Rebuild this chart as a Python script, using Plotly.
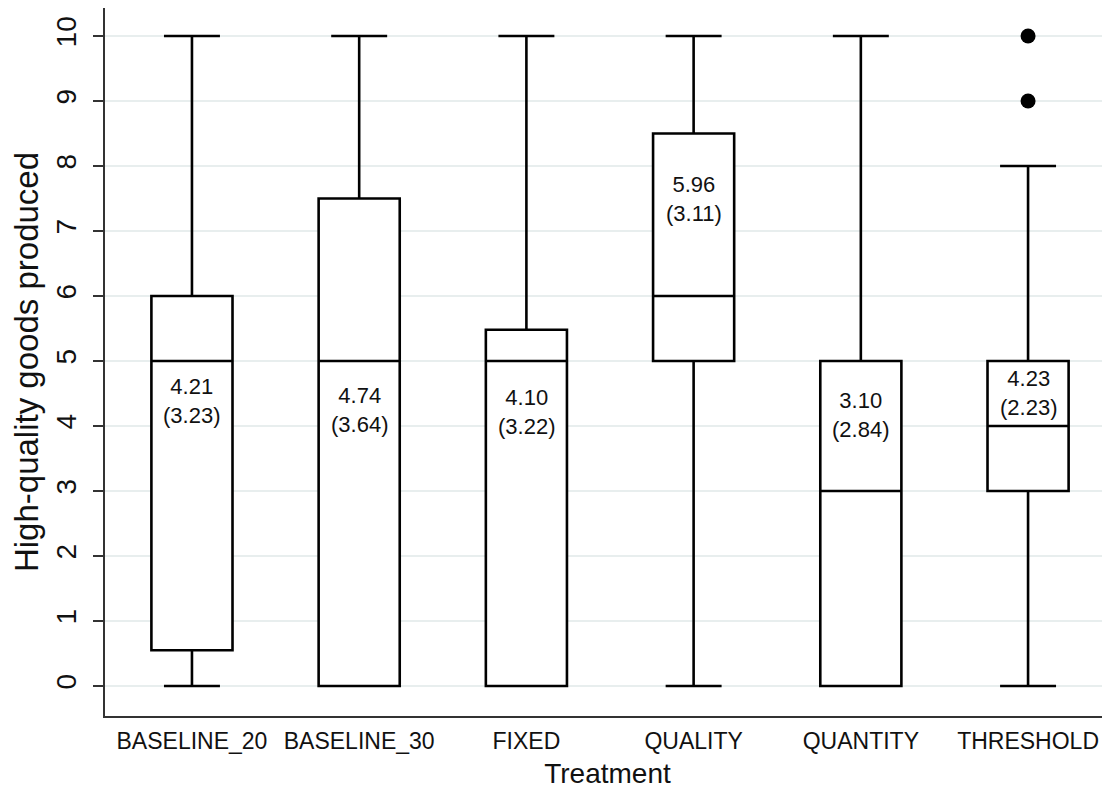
import plotly.graph_objects as go

treatments = ["BASELINE_20", "BASELINE_30", "FIXED", "QUALITY", "QUANTITY", "THRESHOLD"]
lower_whisker = [0, 0, 0, 0, 0, 0]
q1 = [0.55, 0, 0, 5, 0, 3]
median = [5, 5, 5, 6, 3, 4]
q3 = [6, 7.5, 5.48, 8.5, 5, 5]
upper_whisker = [10, 10, 10, 10, 10, 8]
means = ["4.21", "4.74", "4.10", "5.96", "3.10", "4.23"]
sds = ["3.23", "3.64", "3.22", "3.11", "2.84", "2.23"]
label_y = [4.38, 4.24, 4.22, 7.49, 4.17, 4.51]
outlier_x = ["THRESHOLD", "THRESHOLD"]
outlier_y = [9, 10]
y_ticks = list(range(0, 11))

FONT = "Liberation Sans, Arial, sans-serif"

fig = go.Figure()
fig.add_trace(go.Box(
    x=treatments, q1=q1, median=median, q3=q3,
    lowerfence=lower_whisker, upperfence=upper_whisker,
    width=0.485, whiskerwidth=0.69,
    fillcolor="white", line=dict(color="black", width=2.6),
    boxpoints=False, showlegend=False, hoverinfo="skip",
))
fig.add_trace(go.Scatter(
    x=outlier_x, y=outlier_y, mode="markers",
    marker=dict(color="black", size=15), showlegend=False, hoverinfo="skip",
))

for t, m, s, ly in zip(treatments, means, sds, label_y):
    fig.add_annotation(x=t, y=ly, text=f"{m}<br>({s})", showarrow=False,
                       font=dict(family=FONT, size=22, color="#111"),
                       xanchor="center", yanchor="middle")

# page body has an 8px default margin, so the figure is 8px smaller
fig.update_layout(
    width=1102, height=797,
    margin=dict(l=97, r=0, t=0, b=89),
    paper_bgcolor="white", plot_bgcolor="white",
    font=dict(family=FONT, color="#111"),
)
fig.update_xaxes(
    type="category", categoryorder="array", categoryarray=treatments,
    range=[-0.52, 5.49], automargin=False,
    showline=True, linecolor="#333", linewidth=1.5, mirror=False,
    ticks="", showgrid=False, zeroline=False,
    tickfont=dict(family=FONT, size=23, color="#111"),
    ticklabelstandoff=4,
    title=dict(text="Treatment", font=dict(family=FONT, size=28, color="#111"), standoff=10),
)
fig.update_yaxes(
    range=[-0.4615, 10.431], automargin=False,
    tickvals=y_ticks, ticktext=[str(v) for v in y_ticks], tickangle=-90,
    showline=True, linecolor="#333", linewidth=1.5,
    ticks="outside", ticklen=10, tickwidth=1.5, tickcolor="#333",
    showgrid=True, gridcolor="#e8eeee", gridwidth=2, zeroline=False,
    tickfont=dict(family=FONT, size=28, color="#111"),
    ticklabelstandoff=6,
    title=dict(text="High-quality goods produced", font=dict(family=FONT, size=33, color="#111"), standoff=8),
)

fig.write_html("out.html")
